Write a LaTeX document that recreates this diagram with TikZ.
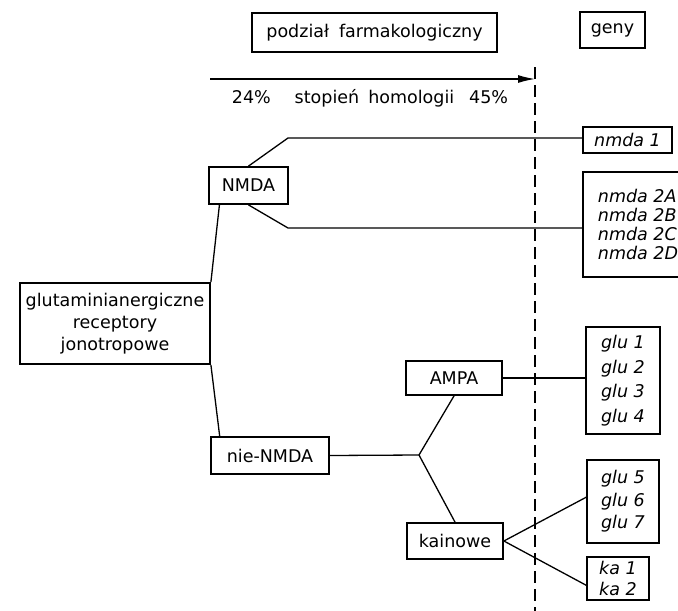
\documentclass[tikz,border=0pt]{standalone}
\usepackage{fontspec}
\setmainfont{DejaVu Sans}
\usetikzlibrary{arrows.meta,calc}

\tikzset{
    box/.style={draw, line width=1.8pt, inner sep=0pt, font=\fontsize{17.5}{21}\selectfont},
    genbox/.style={box, align=left, font=\fontsize{17.5}{#1}\selectfont\itshape},
    genbox/.default=20pt,
    link/.style={line width=1.3pt},
}

\begin{document}
\begin{tikzpicture}[x=1pt, y=-1pt]

    \useasboundingbox (0,0) rectangle (678,611);

    \node[box, minimum width=245pt, minimum height=39pt] (farm) at (374.5,32.5) {podział\hspace{10pt}farmakologiczny};
    \node[box, minimum width=65pt, minimum height=36pt] (geny) at (612.5,30) {geny};
    \node[font=\fontsize{17.5}{21}\selectfont] (homol) at (370,98) {24\%\hspace{24pt}stopień\hspace{9pt}homologii\hspace{15pt}45\%};

    \coordinate (arrstart) at (210,79);
    \coordinate (arrend) at (535,79);
    \coordinate (cuttop) at (535,67);
    \coordinate (cutbot) at (535,611);
    \draw[link, -{Latex[length=17pt,width=8pt]}] (arrstart) -- (arrend);
    \draw[link, dash pattern=on 12pt off 6pt] (cuttop) -- (cutbot);

    \node[box, minimum width=79pt, minimum height=37pt] (nmda) at (248.5,185.5) {NMDA};
    \node[box, minimum width=190pt, minimum height=81pt, align=center, font=\fontsize{17.5}{21.7}\selectfont] (glut) at (115,323.5) {glutaminianergiczne\\receptory\\jonotropowe};
    \node[box, minimum width=118pt, minimum height=37pt] (nienmda) at (270,455.5) {nie-NMDA};
    \node[box, minimum width=96pt, minimum height=34pt] (ampa) at (454,378) {AMPA};
    \node[box, minimum width=96pt, minimum height=36pt] (kain) at (455,541) {kainowe};

    \node[genbox, minimum width=89pt, minimum height=26pt] (nmdaone) at (627.5,140) {nmda 1};
    \node[genbox=19.3pt, minimum width=110pt, minimum height=105pt] (nmdatwo) at (638,224.5) {nmda 2A\\nmda 2B\\nmda 2C\\nmda 2D};
    \node[genbox=24.5pt, minimum width=74pt, minimum height=107pt] (gluA) at (623,380.5) {glu 1\\glu 2\\glu 3\\glu 4};
    \node[genbox=22.5pt, minimum width=72pt, minimum height=83pt] (gluB) at (623,501.5) {glu 5\\glu 6\\glu 7};
    \node[genbox=21.7pt, minimum width=62pt, minimum height=43pt] (ka) at (618,578.5) {ka 1\\ka 2};

    \coordinate (upbend) at (288,138);
    \coordinate (lowbend) at (288,228);
    \coordinate (split) at (419,455);

    \draw[link] (nmda.north) -- (upbend) -- (upbend -| nmdaone.west);
    \draw[link] (nmda.south) -- (lowbend) -- (lowbend -| nmdatwo.west);
    \draw[link] (glut.north east) -- ($(nmda.south west)!0.14!(nmda.south east)$);
    \draw[link] (glut.south east) -- ($(nienmda.north west)!0.08!(nienmda.north east)$);
    \draw[link] (nienmda.east) -- (split);
    \draw[link] (split) -- (ampa.south);
    \draw[link] (split) -- (kain.north);
    \draw[link] (ampa.east) -- (ampa.east -| gluA.west);
    \draw[link] (kain.east) -- ($(gluB.north west)!0.45!(gluB.south west)$);
    \draw[link] (kain.east) -- ($(ka.north west)!0.65!(ka.south west)$);

\end{tikzpicture}
\end{document}
